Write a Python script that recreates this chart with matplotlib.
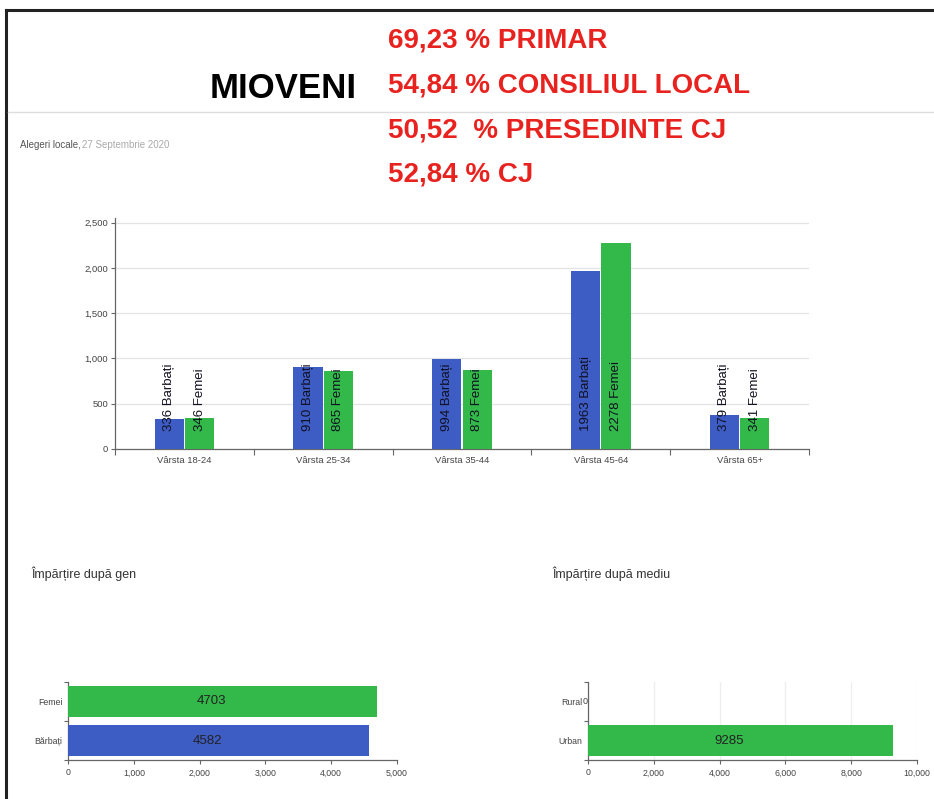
import matplotlib.pyplot as plt
from matplotlib import font_manager
from matplotlib.lines import Line2D
from matplotlib.ticker import FuncFormatter

categorii = ['Vârsta 18-24', 'Vârsta 25-34', 'Vârsta 35-44', 'Vârsta 45-64', 'Vârsta 65+']
barbati = [336, 910, 994, 1963, 379]
femei = [346, 865, 873, 2278, 341]

gen = ['Bărbați', 'Femei']
gen_val = [4582, 4703]
mediu = ['Urban', 'Rural']
mediu_val = [9285, 0]

procente = ['69,23 % PRIMAR', '54,84 % CONSILIUL LOCAL', '50,52  % PRESEDINTE CJ', '52,84 % CJ']

BLUE = '#3d5cc4'
GREEN = '#33b84a'


def pick(names):
    for n in names:
        try:
            font_manager.findfont(n, fallback_to_default=False)
            return n
        except Exception:
            pass
    return 'DejaVu Sans'


NARROW = pick(['Liberation Sans Narrow', 'Liberation Sans'])
plt.rcParams['font.family'] = [NARROW, 'DejaVu Sans']

W, H = 934, 799
fig = plt.figure(figsize=(W / 100, H / 100), dpi=100)


def fx(px):
    return px / W


def fy(py):
    return 1 - py / H


# frame lines
fig.add_artist(Line2D([fx(6), 1], [fy(10), fy(10)], color='#222222', lw=2.2))
fig.add_artist(Line2D([fx(6), fx(6)], [fy(10), 0], color='#222222', lw=2.2))
fig.add_artist(Line2D([fx(8), 1], [fy(112), fy(112)], color='#dddddd', lw=1))

# header
fig.text(fx(210), fy(88), 'MIOVENI', fontsize=25, fontweight='bold', color='black',
         ha='left', va='center')
for i, t in enumerate(procente):
    fig.text(fx(388), fy(41 + i * 44.5), t, fontsize=20, fontweight='bold', color='#e8231f',
             ha='left', va='center')

fig.text(fx(20), fy(145), 'Alegeri locale,', fontsize=7, color='#555555', ha='left', va='center')
fig.text(fx(82), fy(145), '27 Septembrie 2020', fontsize=7, color='#aaaaaa', ha='left', va='center')

fig.text(fx(31), fy(574), 'Împărțire după gen', fontsize=9, color='#333333', ha='left', va='center')
fig.text(fx(552), fy(574), 'Împărțire după mediu', fontsize=9, color='#333333', ha='left', va='center')

comma = FuncFormatter(lambda v, p: f'{int(v):,}')

# main grouped bar chart
ax = fig.add_axes([fx(115), fy(449), fx(809) - fx(115), fy(218) - fy(449)])
x = range(len(categorii))
w = 0.21
xb = [i - 0.11 for i in x]
xf = [i + 0.11 for i in x]
ax.bar(xb, barbati, width=w, color=BLUE, zorder=3)
ax.bar(xf, femei, width=w, color=GREEN, zorder=3)
for xi, v in zip(xb, barbati):
    ax.annotate(f'{v} Barbați', xy=(xi, 0), xytext=(0, 18), textcoords='offset pixels',
                rotation=90, ha='left', va='center', rotation_mode='anchor',
                fontsize=9.5, color='#111122', zorder=4)
for xi, v in zip(xf, femei):
    ax.annotate(f'{v} Femei', xy=(xi, 0), xytext=(0, 18), textcoords='offset pixels',
                rotation=90, ha='left', va='center', rotation_mode='anchor',
                fontsize=9.5, color='#111122', zorder=4)
ax.set_xlim(-0.5, len(categorii) - 0.5)
ax.set_ylim(0, 2550)
ax.set_yticks([0, 500, 1000, 1500, 2000, 2500])
ax.yaxis.set_major_formatter(comma)
ax.set_xticks([i - 0.5 for i in range(len(categorii) + 1)])
ax.set_xticklabels([])
ax.set_xticks(list(x), minor=True)
ax.set_xticklabels(categorii, minor=True)
ax.tick_params(axis='x', which='major', length=4, color='#666666')
ax.tick_params(axis='x', which='minor', length=0, labelsize=6.8, labelcolor='#444444', pad=5)
ax.tick_params(axis='y', length=3, color='#666666', labelsize=6.8, labelcolor='#444444', pad=2)
ax.grid(axis='y', color='#e3e3e3', lw=0.9, zorder=0)
for s in ['top', 'right']:
    ax.spines[s].set_visible(False)
for s in ['left', 'bottom']:
    ax.spines[s].set_color('#666666')
    ax.spines[s].set_linewidth(0.9)


def hbar(ax, labels, vals, colors, xmax, step, grid):
    ax.barh(range(len(labels)), vals, height=0.82, color=colors, zorder=3)
    for i, v in enumerate(vals):
        if v > 0:
            ax.text(v / 2 - xmax * 0.035, i, str(v), ha='center', va='center', fontsize=9.5,
                    color='#222222', zorder=4)
        else:
            ax.text(0, i, str(v), ha='right', va='center', fontsize=6.5, color='#444444', zorder=4)
    ax.set_xlim(0, xmax)
    ax.set_ylim(-0.5, len(labels) - 0.5)
    ax.set_xticks(range(0, xmax + 1, step))
    ax.xaxis.set_major_formatter(comma)
    ax.set_yticks([i - 0.5 for i in range(len(labels) + 1)])
    ax.set_yticklabels([])
    ax.set_yticks(range(len(labels)), minor=True)
    ax.set_yticklabels(labels, minor=True)
    ax.tick_params(axis='y', which='major', length=3, color='#666666')
    ax.tick_params(axis='y', which='minor', length=0, labelsize=6.3, labelcolor='#444444', pad=4)
    ax.tick_params(axis='x', length=3, color='#666666', labelsize=6.3, labelcolor='#444444', pad=3)
    if grid:
        ax.grid(axis='x', color='#eeeeee', lw=0.9, zorder=0)
    for s in ['top', 'right']:
        ax.spines[s].set_visible(False)
    for s in ['left', 'bottom']:
        ax.spines[s].set_color('#666666')
        ax.spines[s].set_linewidth(0.9)


ax2 = fig.add_axes([fx(68), fy(760), fx(397) - fx(68), fy(682) - fy(760)])
hbar(ax2, gen, gen_val, [BLUE, GREEN], 5000, 1000, False)

ax3 = fig.add_axes([fx(588), fy(760), fx(917) - fx(588), fy(682) - fy(760)])
hbar(ax3, mediu, mediu_val, [GREEN, GREEN], 10000, 2000, True)

fig.savefig('out.png', dpi=100)
